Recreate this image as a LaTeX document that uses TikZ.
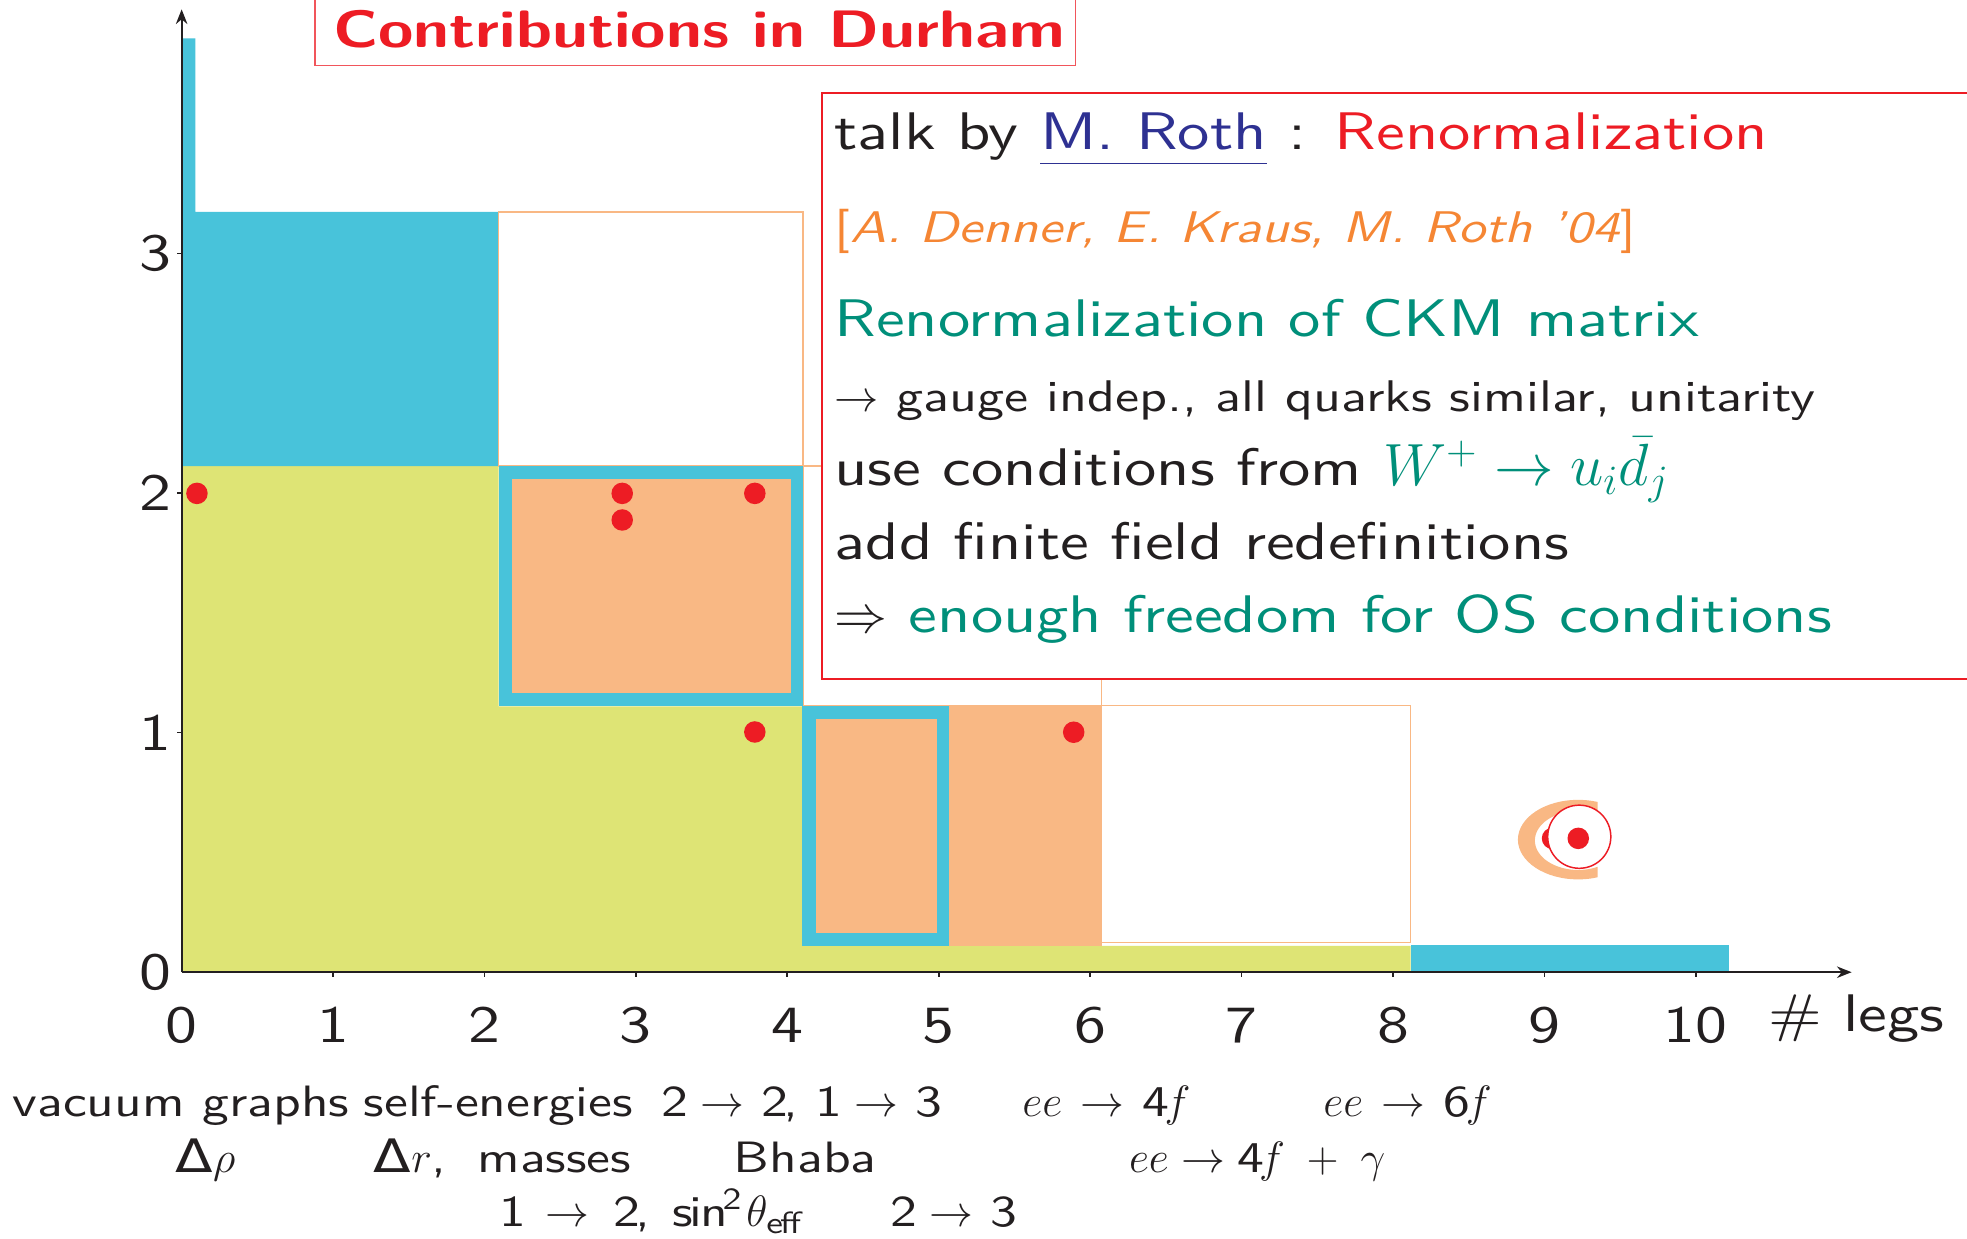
\RequirePackage{fix-cm}
\documentclass[tikz,border=0pt]{standalone}
\usepackage{fontspec}
\setmainfont{lmsans10-regular.otf}[FakeStretch=1.22, BoldFont=lmsans10-bold.otf, ItalicFont=lmsans10-oblique.otf]
\newfontfamily\dvfont{DejaVu Sans}
\usetikzlibrary{arrows.meta}
\definecolor{cyanC}{HTML}{48C3DA}
\definecolor{yelC}{HTML}{DEE475}
\definecolor{oraC}{HTML}{F9B884}
\definecolor{redC}{HTML}{ED1C24}
\definecolor{tealC}{HTML}{008F7A}
\definecolor{blueC}{HTML}{2E3192}
\definecolor{oraT}{HTML}{F58634}
\definecolor{inkC}{HTML}{231F20}
\newcommand{\bigDelta}{\scalebox{1.25}[1.05]{\dvfont Δ}}
\tikzset{
  every node/.style={inner sep=0pt, outer sep=0pt, text=inkC},
  big/.style={font=\fontsize{25.3}{30}\selectfont, anchor=base west},
  small/.style={font=\fontsize{21.2}{25}\selectfont, anchor=base west},
  lab/.style={font=\fontsize{21}{25}\selectfont, anchor=base west},
  num/.style={font=\fontsize{25}{30}\selectfont},
  obox/.style={draw=oraC, line width=0.7pt, fill=white},
  reddot/.style={circle, fill=redC, minimum size=10.3pt},
  axisline/.style={draw=inkC, line width=1pt, -{Stealth[length=7pt,width=5.5pt]}},
  tick/.style={draw=inkC, line width=0.8pt}
}
\begin{document}
\begin{tikzpicture}[x=0.6pt,y=-0.6pt]
\useasboundingbox (0,0) rectangle (1568,987);
\fill[white] (0,0) rectangle (1568,987);

% yellow region
\fill[yelC] (144.8,775) -- (144.8,371.5) -- (397.5,371.5) -- (397.5,563) -- (639.5,563)
  -- (639.5,754) -- (1124.5,754) -- (1124.5,775) -- cycle;
% cyan upper region
\fill[cyanC] (144.8,371.5) -- (144.8,30.6) -- (155.8,30.6) -- (155.8,169) -- (397.5,169)
  -- (397.5,371.5) -- cycle;
% white boxes with orange border
\draw[obox] (397.5,169) rectangle (640,371.5);
\draw[obox] (640,371.5) rectangle (878.2,562.5);
\draw[obox] (878.2,562.5) rectangle (1124.5,751.4);
% framed box 1
\fill[cyanC] (397.5,371.5) rectangle (640,563);
\fill[oraC] (408.1,381.8) rectangle (630.2,552.4);
% framed box 2
\fill[cyanC] (639.5,562.5) rectangle (756.3,754.3);
\fill[oraC] (650.5,573) rectangle (747,743.7);
% orange box
\fill[oraC] (756.3,562.5) rectangle (878.2,754.3);
% cyan bottom bar
\fill[cyanC] (1124.5,753.6) rectangle (1378.3,775);

% axes
\coordinate (O) at (144.8,775);
\coordinate (XE) at (1476,775);
\coordinate (YE) at (144.8,7.5);
\draw[axisline] (O) -- (XE);
\draw[axisline] (O) -- (YE);
\foreach \i in {1,...,10} {
  \coordinate (xt\i) at ({144.8+120.7*\i},775);
  \draw[tick] (xt\i) -- ++(0,4);
}
\foreach \i/\yy in {1/584,2/393,3/202} {
  \coordinate (yt\i) at (144.8,\yy);
  \draw[tick] (yt\i) -- ++(-4,0);
}
% axis numbers
\foreach \i in {0,...,10} {
  \node[num, anchor=base] (xl\i) at ({144.8+120.7*\i},831) {\i};
}
\node[num, anchor=east] (yl0) at (137,775) {0};
\node[num, anchor=east] (yl1) at (137,584) {1};
\node[num, anchor=east] (yl2) at (137,393) {2};
\node[num, anchor=east] (yl3) at (137,202) {3};
\node[big] (legs) at (1409.6,822.4) {\# legs};

% red dots
\node[reddot] (d1) at (157,393.3) {};
\node[reddot] (d2) at (496,393.3) {};
\node[reddot] (d3) at (496,414.5) {};
\node[reddot] (d4) at (601.7,393.3) {};
\node[reddot] (d5) at (601.7,583.5) {};
\node[reddot] (d6) at (855.9,583.7) {};

% crescent symbol
\begin{scope}
  \clip (1180,600) rectangle (1273.5,740);
  \fill[oraC, even odd rule] (1258,669.3) ellipse [x radius=48, y radius=31.7]
    (1258,670) ellipse [x radius=34.5, y radius=23.5];
\end{scope}
\node[reddot] (d7) at (1237.6,668.3) {};
\node[circle, draw=redC, line width=0.7pt, fill=white, minimum size=30.2pt] (ring) at (1258.9,667) {};
\node[reddot] (d8) at (1258.1,668.3) {};

% title box
\draw[redC!75, line width=0.8pt, fill=white] (251,-10) rectangle (857.2,52.3);
\node[font=\fontsize{25.2}{30}\selectfont\bfseries, anchor=base west, text=redC] (title) at (265.6,38) {Contributions in Durham};

% info box
\draw[redC, line width=0.8pt, fill=white] (655,73.9) rectangle (1600,541.3);
\node[big] (l1) at (665.3,118.9) {talk by \textcolor{blueC}{\underline{M. Roth\vphantom{g}}} : \textcolor{redC}{Renormalization}};
\node[small, text=oraT] (l2) at (665.3,193) {[\textit{A. Denner, E. Kraus, M. Roth '04}]};
\node[big, text=tealC] (l3) at (665.3,268) {Renormalization of CKM matrix};
\node[small] (l4) at (665.3,328) {$\rightarrow$ gauge indep., all quarks similar, unitarity};
\node[big] (l5) at (665.3,387.4) {use conditions from \textcolor{tealC}{\fontsize{28.5}{30}\selectfont$W^{\mathrm{+}}\to u_i\bar d_j$}};
\node[big] (l6) at (665.3,445.8) {add finite field redefinitions};
\node[big] (l7) at (665.3,504.1) {$\Rightarrow$ \textcolor{tealC}{enough freedom for OS conditions}};

% bottom labels
\node[lab] (b1) at (10,890) {vacuum graphs};
\node[lab] (b2) at (290,890) {self-energies};
\node[lab] (b3) at (527,890) {$\mathrm{2}\mskip2mu\to\mskip2mu\mathrm{2}$, $\mathrm{1}\mskip2mu\to\mskip2mu\mathrm{3}$};
\node[lab] (b4) at (815,890) {$ee\mskip2.5mu\to\mskip2.5mu\mathrm{4}f$};
\node[lab] (b5) at (1055,890) {$ee\mskip2.5mu\to\mskip2.5mu\mathrm{6}f$};
\node[lab] (b6) at (140,934.8) {\bigDelta$\rho$};
\node[lab] (b7) at (298,934.8) {\bigDelta$r$,\hspace{0.7em}masses};
\node[lab] (b8) at (585,934.8) {Bhaba};
\node[lab] (b9) at (900,934.8) {$ee\to\mathrm{4}f\;\mathbin{\mathrm{+}}\;\gamma$};
\node[lab] (b10) at (398,977.8) {$\mathrm{1}\;\to\;\mathrm{2}$,\hspace{0.5em}$\sin^{\mathrm{2}}\theta_{\mathrm{eff}}$};
\node[lab] (b11) at (710,977.8) {$\mathrm{2}\mskip2mu\to\mskip2mu\mathrm{3}$};
\end{tikzpicture}
\end{document}
